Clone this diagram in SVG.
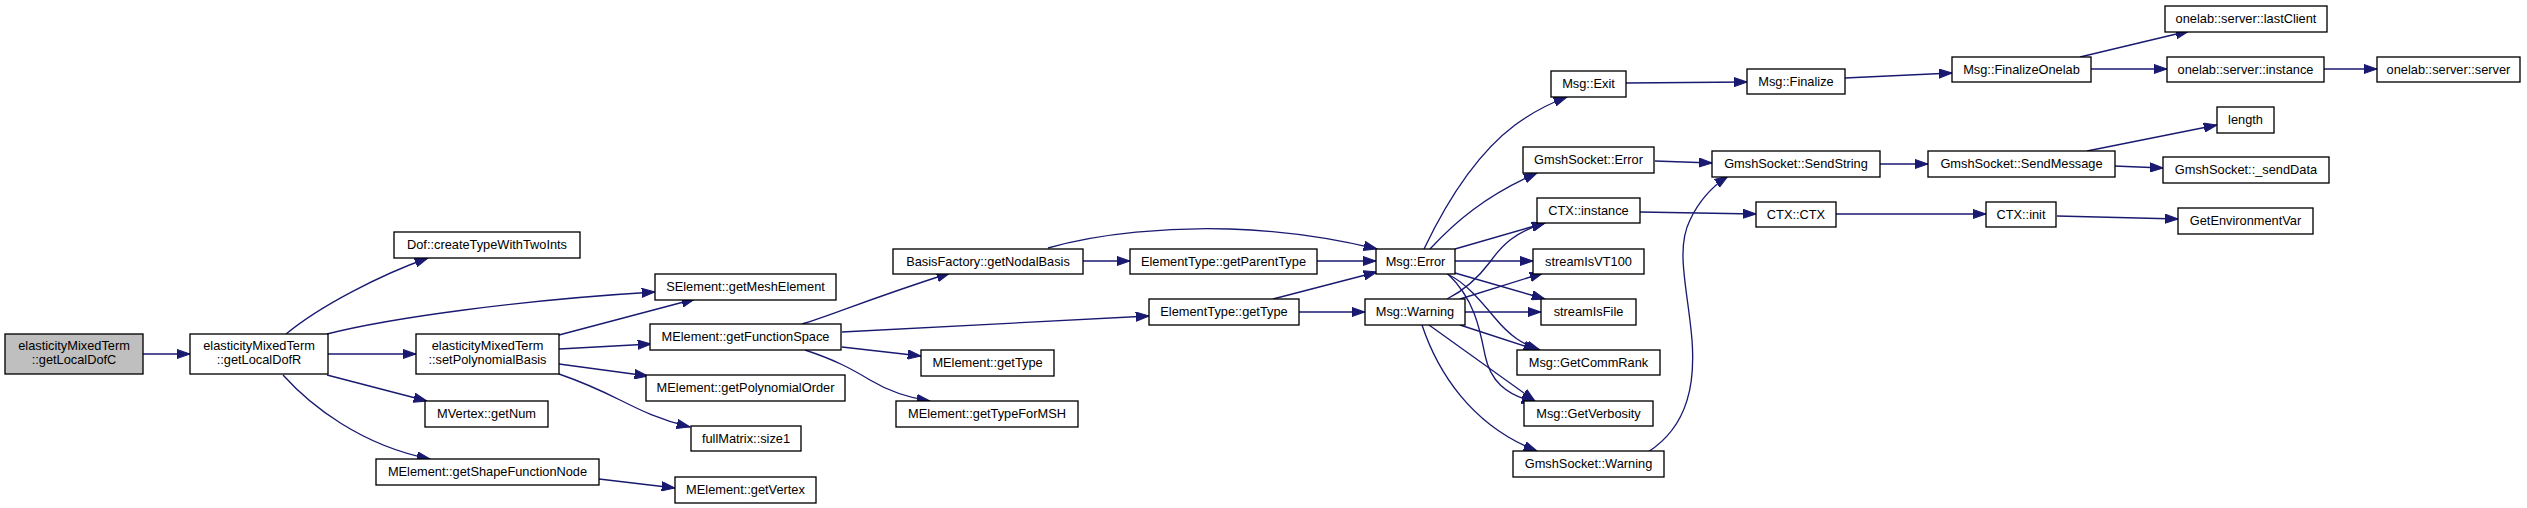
<svg xmlns="http://www.w3.org/2000/svg" width="2527" height="508" viewBox="0 0 2527 508">
<style>
.n rect{fill:#ffffff;stroke:#000000;stroke-width:1.33}
.n.root rect{fill:#bfbfbf}
.n text{font-family:"Liberation Sans",Arial,Helvetica,sans-serif;font-size:12.8px;fill:#000000;text-anchor:middle}
.e path{fill:none;stroke:#191970;stroke-width:1.33;marker-end:url(#ah)}
</style>
<defs>
<marker id="ah" markerUnits="userSpaceOnUse" markerWidth="14" markerHeight="10" viewBox="0 0 14 10" refX="13.3" refY="5" orient="auto">
<path d="M0,0.35 L13.3,5 L0,9.65 z" fill="#191970" stroke="#191970" stroke-width="1"/>
</marker>
</defs>
<rect width="2527" height="508" fill="#ffffff"/>
<g id="edges" class="e">
<path d="M143,354 L190,354"/>
<path d="M286,334 C320,306 380,275 428,258"/>
<path d="M327,334 C390,318 520,300 655,292"/>
<path d="M328,354 L416,354"/>
<path d="M327,375 L427,401"/>
<path d="M283,375 C310,405 360,445 430,459"/>
<path d="M559,335 L695,299"/>
<path d="M559,349 L651,344"/>
<path d="M559,364 L648,376"/>
<path d="M559,374 C585,383 600,390 620,400 C640,410 660,420 690,427"/>
<path d="M599,479 L675,488"/>
<path d="M802,324 C830,316 860,302 950,273"/>
<path d="M842,332 L1149,316"/>
<path d="M842,347 L921,356"/>
<path d="M805,350 C835,360 850,368 870,380 C890,392 910,398 930,401"/>
<path d="M1083,261 L1130,261"/>
<path d="M1048,248 C1100,233 1170,227 1230,229 C1290,231 1340,240 1377,249"/>
<path d="M1317,261 L1376,261"/>
<path d="M1273,299 L1377,272"/>
<path d="M1298,312 L1365,312"/>
<path d="M1424,249 C1445,205 1475,155 1515,125 C1530,114 1548,104 1567,97"/>
<path d="M1430,249 C1455,222 1485,196 1537,173"/>
<path d="M1455,249 L1545,223"/>
<path d="M1455,261 L1533,261"/>
<path d="M1455,273 L1545,299"/>
<path d="M1447,274 C1465,282 1480,300 1495,318 C1510,336 1522,344 1540,350"/>
<path d="M1448,274 C1475,300 1480,330 1485,355 C1490,380 1505,395 1535,402"/>
<path d="M1447,299 C1465,290 1478,278 1490,262 C1502,245 1515,232 1545,223"/>
<path d="M1460,299 L1543,273"/>
<path d="M1465,312 L1541,312"/>
<path d="M1460,325 L1537,350"/>
<path d="M1429,325 L1535,401"/>
<path d="M1422,325 C1437,370 1470,425 1537,451"/>
<path d="M1648,452 C1690,425 1695,380 1692,340 C1688,290 1675,250 1690,220 C1697,205 1710,188 1728,176"/>
<path d="M1655,161 L1712,163"/>
<path d="M1640,212 L1756,214"/>
<path d="M1880,164 L1928,164"/>
<path d="M2087,151 L2217,125"/>
<path d="M2114,166 L2163,168"/>
<path d="M1836,214 L1986,214"/>
<path d="M2057,216 L2178,219"/>
<path d="M1626,83 L1747,82"/>
<path d="M1845,78 L1952,73"/>
<path d="M2080,57 L2189,31"/>
<path d="M2091,69 L2167,69"/>
<path d="M2324,69 L2377,69"/>
</g>
<g id="node1" class="n root"><rect x="5" y="334" width="138" height="40"/><text x="74" y="350">elasticityMixedTerm</text><text x="74" y="364">::getLocalDofC</text></g>
<g id="node2" class="n"><rect x="190" y="334" width="138" height="40"/><text x="259" y="350">elasticityMixedTerm</text><text x="259" y="364">::getLocalDofR</text></g>
<g id="node3" class="n"><rect x="394" y="232" width="186" height="26"/><text x="487" y="249">Dof::createTypeWithTwoInts</text></g>
<g id="node4" class="n"><rect x="655" y="274" width="181" height="26"/><text x="745.5" y="291">SElement::getMeshElement</text></g>
<g id="node5" class="n"><rect x="416" y="334" width="143" height="40"/><text x="487.5" y="350">elasticityMixedTerm</text><text x="487.5" y="364">::setPolynomialBasis</text></g>
<g id="node6" class="n"><rect x="650" y="324" width="191" height="26"/><text x="745.5" y="341">MElement::getFunctionSpace</text></g>
<g id="node7" class="n"><rect x="646" y="375" width="199" height="26"/><text x="745.5" y="392">MElement::getPolynomialOrder</text></g>
<g id="node8" class="n"><rect x="425" y="401" width="123" height="26"/><text x="486.5" y="418">MVertex::getNum</text></g>
<g id="node9" class="n"><rect x="691" y="426" width="110" height="25"/><text x="746" y="443">fullMatrix::size1</text></g>
<g id="node10" class="n"><rect x="376" y="459" width="223" height="26"/><text x="487.5" y="476">MElement::getShapeFunctionNode</text></g>
<g id="node11" class="n"><rect x="675" y="477" width="141" height="26"/><text x="745.5" y="494">MElement::getVertex</text></g>
<g id="node12" class="n"><rect x="893" y="249" width="190" height="25"/><text x="988" y="266">BasisFactory::getNodalBasis</text></g>
<g id="node13" class="n"><rect x="1130" y="249" width="187" height="25"/><text x="1223.5" y="266">ElementType::getParentType</text></g>
<g id="node14" class="n"><rect x="1376" y="249" width="79" height="25"/><text x="1415.5" y="266">Msg::Error</text></g>
<g id="node15" class="n"><rect x="1149" y="299" width="150" height="26"/><text x="1224" y="316">ElementType::getType</text></g>
<g id="node16" class="n"><rect x="1365" y="299" width="100" height="26"/><text x="1415" y="316">Msg::Warning</text></g>
<g id="node17" class="n"><rect x="921" y="350" width="133" height="26"/><text x="987.5" y="367">MElement::getType</text></g>
<g id="node18" class="n"><rect x="896" y="401" width="182" height="26"/><text x="987" y="418">MElement::getTypeForMSH</text></g>
<g id="node19" class="n"><rect x="1551" y="71" width="75" height="26"/><text x="1588.5" y="88">Msg::Exit</text></g>
<g id="node20" class="n"><rect x="1523" y="147" width="131" height="26"/><text x="1588.5" y="164">GmshSocket::Error</text></g>
<g id="node21" class="n"><rect x="1537" y="198" width="103" height="25"/><text x="1588.5" y="215">CTX::instance</text></g>
<g id="node22" class="n"><rect x="1533" y="249" width="111" height="25"/><text x="1588.5" y="266">streamIsVT100</text></g>
<g id="node23" class="n"><rect x="1541" y="299" width="95" height="26"/><text x="1588.5" y="316">streamIsFile</text></g>
<g id="node24" class="n"><rect x="1517" y="350" width="143" height="25"/><text x="1588.5" y="367">Msg::GetCommRank</text></g>
<g id="node25" class="n"><rect x="1524" y="401" width="129" height="25"/><text x="1588.5" y="418">Msg::GetVerbosity</text></g>
<g id="node26" class="n"><rect x="1513" y="451" width="151" height="26"/><text x="1588.5" y="468">GmshSocket::Warning</text></g>
<g id="node27" class="n"><rect x="1747" y="69" width="98" height="25"/><text x="1796" y="86">Msg::Finalize</text></g>
<g id="node28" class="n"><rect x="1952" y="57" width="139" height="25"/><text x="2021.5" y="74">Msg::FinalizeOnelab</text></g>
<g id="node29" class="n"><rect x="2165" y="6" width="162" height="26"/><text x="2246" y="23">onelab::server::lastClient</text></g>
<g id="node30" class="n"><rect x="2167" y="57" width="157" height="25"/><text x="2245.5" y="74">onelab::server::instance</text></g>
<g id="node31" class="n"><rect x="2377" y="57" width="143" height="25"/><text x="2448.5" y="74">onelab::server::server</text></g>
<g id="node32" class="n"><rect x="1712" y="151" width="168" height="26"/><text x="1796" y="168">GmshSocket::SendString</text></g>
<g id="node33" class="n"><rect x="1928" y="151" width="187" height="26"/><text x="2021.5" y="168">GmshSocket::SendMessage</text></g>
<g id="node34" class="n"><rect x="2217" y="107" width="57" height="26"/><text x="2245.5" y="124">length</text></g>
<g id="node35" class="n"><rect x="2163" y="157" width="166" height="26"/><text x="2246" y="174">GmshSocket::_sendData</text></g>
<g id="node36" class="n"><rect x="1756" y="202" width="80" height="25"/><text x="1796" y="219">CTX::CTX</text></g>
<g id="node37" class="n"><rect x="1986" y="202" width="70" height="25"/><text x="2021" y="219">CTX::init</text></g>
<g id="node38" class="n"><rect x="2178" y="208" width="135" height="26"/><text x="2245.5" y="225">GetEnvironmentVar</text></g>
</svg>
